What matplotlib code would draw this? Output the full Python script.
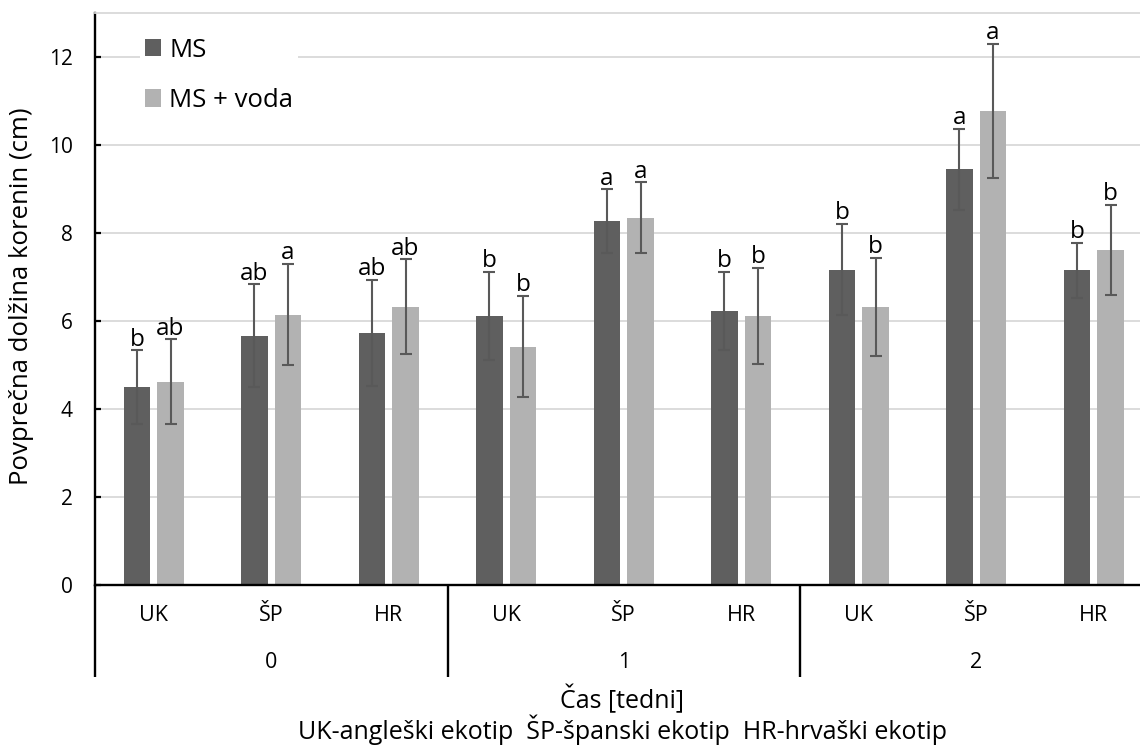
import matplotlib.pyplot as plt
import numpy as np
from matplotlib.transforms import blended_transform_factory

plt.rcParams['font.family'] = ['Open Sans', 'DejaVu Sans']

# podatki: 3 tedni x 3 ekotipi
tedni = ['0', '1', '2']
ekotipi = ['UK', 'ŠP', 'HR']
ms = [4.50, 5.67, 5.73, 6.12, 8.27, 6.23, 7.17, 9.45, 7.15]
ms_err = [0.83, 1.16, 1.20, 1.00, 0.72, 0.88, 1.03, 0.92, 0.62]
ms_voda = [4.62, 6.14, 6.32, 5.42, 8.35, 6.12, 6.32, 10.77, 7.61]
ms_voda_err = [0.96, 1.15, 1.08, 1.14, 0.80, 1.09, 1.11, 1.52, 1.02]
ms_crke = ['b', 'ab', 'ab', 'b', 'a', 'b', 'b', 'a', 'b']
ms_voda_crke = ['ab', 'a', 'ab', 'b', 'a', 'b', 'b', 'a', 'b']

fig = plt.figure(figsize=(11.4, 7.49), dpi=100)
ax = fig.add_axes([95/1140, 164/749, 1057.5/1140, 572/749])

x = np.arange(len(ms))
w = 0.2255
off = 0.143
ax.bar(x - off, ms, w, color='#5f5f5f', label='MS', zorder=2)
ax.bar(x + off, ms_voda, w, color='#b2b2b2', label='MS + voda', zorder=2)
ax.errorbar(x - off, ms, yerr=ms_err, fmt='none', ecolor='#595959',
            elinewidth=1.5, capsize=4.3, capthick=1.5, zorder=3)
ax.errorbar(x + off, ms_voda, yerr=ms_voda_err, fmt='none', ecolor='#595959',
            elinewidth=1.5, capsize=4.3, capthick=1.5, zorder=3)

# crke nad stolpci
for xs, vals, errs, crke in [(x - off, ms, ms_err, ms_crke),
                             (x + off, ms_voda, ms_voda_err, ms_voda_crke)]:
    for xi, v, e, c in zip(xs, vals, errs, crke):
        ax.annotate(c, (xi, v + e), xytext=(0, 3.5), textcoords='offset points',
                    ha='center', va='baseline', fontsize=17.5)

ax.set_xlim(-0.5, len(ms) - 0.5)
ax.set_ylim(0, 13)
ax.set_yticks(range(0, 13, 2))
ax.set_xticks([])
ax.yaxis.grid(True, color='#d9d9d9', lw=1.3)
ax.set_axisbelow(True)
ax.tick_params(axis='y', direction='in', length=4.5, width=1.6, labelsize=15, pad=16)

for s in ['left', 'bottom']:
    ax.spines[s].set_linewidth(1.7)
    ax.spines[s].set_color('black')
ax.spines['top'].set_color('#d9d9d9')
ax.spines['top'].set_linewidth(1.3)
ax.spines['right'].set_visible(False)

# vecnivojska os x
trans = blended_transform_factory(ax.transData, ax.transAxes)
for xs in [-0.5, 2.5, 5.5]:
    ax.plot([xs, xs], [0, -0.161], transform=trans, color='black', lw=1.7,
            clip_on=False, solid_capstyle='butt')
for i in range(len(ms)):
    ax.text(i, -0.054, ekotipi[i % 3], transform=trans, ha='center', va='center',
            fontsize=15.5)
for g, t in enumerate(tedni):
    ax.text(1 + 3 * g, -0.136, t, transform=trans, ha='center', va='center',
            fontsize=15.5)

fig.text(622/1140, 1 - 700/749, 'Čas [tedni]', ha='center', va='center', fontsize=18)
fig.text(622/1140, 1 - 730/749, 'UK-angleški ekotip  ŠP-španski ekotip  HR-hrvaški ekotip',
         ha='center', va='center', fontsize=18)
fig.text(22/1140, 1 - 296/749, 'Povprečna dolžina korenin (cm)', rotation=90,
         ha='center', va='center', fontsize=18.5)

ax.legend(loc='upper left', bbox_to_anchor=(0.03, 0.988), frameon=True,
          facecolor='white', edgecolor='none', framealpha=1, fancybox=False,
          fontsize=18.5, handlelength=0.65, handleheight=0.65, handletextpad=0.3,
          labelspacing=0.98, borderpad=0.2)

fig.savefig('out.png', dpi=100)
